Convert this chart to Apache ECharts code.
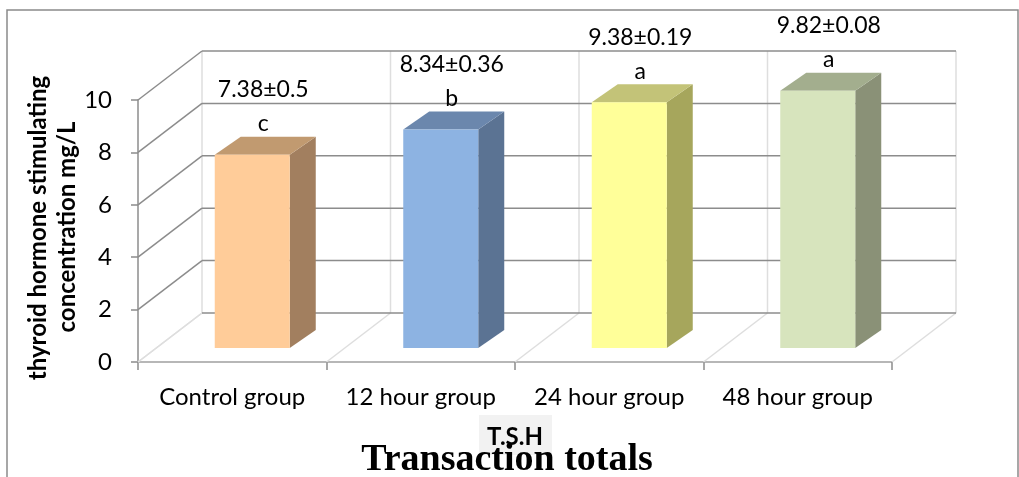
<!DOCTYPE html>
<html>
<head>
<meta charset="utf-8">
<script src="https://cdn.jsdelivr.net/npm/echarts@6/dist/echarts.min.js"></script>
<style>
  html, body { margin: 0; padding: 0; background: #ffffff; }
  #chart { width: 1019px; height: 477px; }
</style>
</head>
<body>
<div id="chart"></div>
<script>
// ---- data ----
const categories = ['Control group', '12 hour group', '24 hour group', '48 hour group'];
const means = [7.38, 8.34, 9.38, 9.82];
const errors = ['0.5', '0.36', '0.19', '0.08'];
const letters = ['c', 'b', 'a', 'a'];
const yTicks = [0, 2, 4, 6, 8, 10];

// ---- styling ----
const frontColors = ['#FFCC99', '#8DB3E2', '#FFFF99', '#D7E4BD'];
const sideColors  = ['#A27F5F', '#5B7393', '#A6A65C', '#8A9177'];
const topColors   = ['#C19A70', '#6B87AD', '#C3C378', '#A3AE8E'];

const FONT = 'Lato, "Open Sans", sans-serif';
const DARK_LINE = '#8c8c8c';
const LIGHT_LINE = '#dedede';

// oblique projection: offset from the front plane to the back wall
const DEPTH = [64, -49];
// bar faces along the depth direction
const BAR_FRONT = [20, -14];
const BAR_SIDE = [26, -18];
const BAR_W = 75;

const chart = echarts.init(document.getElementById('chart'), null, { renderer: 'canvas' });

// back wall gridlines + left-wall diagonals, one item per y tick
function renderWall(params, api) {
  const cs = params.coordSys;
  const v = api.value(1);
  const y = api.coord([0, v])[1];
  const x0 = cs.x, x1 = cs.x + cs.width;
  const color = v === 0 ? LIGHT_LINE : DARK_LINE;
  return {
    type: 'group',
    children: [
      { type: 'line', shape: { x1: x0, y1: y, x2: x0 + DEPTH[0], y2: y + DEPTH[1] },
        style: { stroke: color, lineWidth: 1.5 } },
      { type: 'line', shape: { x1: x0 + DEPTH[0], y1: y + DEPTH[1], x2: x1 + DEPTH[0], y2: y + DEPTH[1] },
        style: { stroke: DARK_LINE, lineWidth: 1.5 } }
    ]
  };
}

// floor diagonals and back-wall verticals at the category boundaries
function renderBounds(params, api) {
  const band = api.size([1, 0])[0];
  const i = api.value(0);
  const xc = api.coord([i, 0])[0];
  const y0 = api.coord([i, 0])[1];
  const yTop = api.coord([i, yTicks[yTicks.length - 1]])[1];
  const xs = [xc - band / 2];
  if (params.dataIndex === categories.length - 1) xs.push(xc + band / 2);
  const children = [];
  xs.forEach(function (x) {
    children.push({ type: 'line', shape: { x1: x, y1: y0, x2: x + DEPTH[0], y2: y0 + DEPTH[1] },
      style: { stroke: LIGHT_LINE, lineWidth: 1.5 } });
    children.push({ type: 'line', shape: { x1: x + DEPTH[0], y1: y0 + DEPTH[1], x2: x + DEPTH[0], y2: yTop + DEPTH[1] },
      style: { stroke: LIGHT_LINE, lineWidth: 1.5 } });
  });
  return { type: 'group', children: children };
}

// 3-D looking column with its value / significance labels
function renderBar(params, api) {
  const i = params.dataIndex;
  const cat = api.value(0);
  const val = api.value(1);
  const base = api.coord([cat, 0]);
  const top = api.coord([cat, val]);
  const xL = base[0] + BAR_FRONT[0] - BAR_W / 2;
  const xR = xL + BAR_W;
  const yB = base[1] + BAR_FRONT[1];
  const yT = top[1] + BAR_FRONT[1];
  const dx = BAR_SIDE[0], dy = BAR_SIDE[1];
  const labelX = (xL + xR) / 2 + 11;
  return {
    type: 'group',
    children: [
      { type: 'polygon', shape: { points: [[xR, yT], [xR + dx, yT + dy], [xR + dx, yB + dy], [xR, yB]] },
        style: { fill: sideColors[i] } },
      { type: 'polygon', shape: { points: [[xL, yT], [xL + dx, yT + dy], [xR + dx, yT + dy], [xR, yT]] },
        style: { fill: topColors[i] } },
      { type: 'rect', shape: { x: xL, y: yT, width: BAR_W, height: yB - yT },
        style: { fill: frontColors[i] } },
      { type: 'text', x: labelX, y: yT - 31,
        style: { text: letters[i], fill: '#000', font: '23px ' + FONT, align: 'center', verticalAlign: 'middle' } },
      { type: 'text', x: labelX, y: yT - 65,
        style: { text: val.toFixed(2) + '\u00B1' + errors[i], fill: '#000', font: '23px ' + FONT, align: 'center', verticalAlign: 'middle' } }
    ]
  };
}

const option = {
  backgroundColor: '#ffffff',
  animation: false,
  grid: { left: 138, right: 127, top: 100, bottom: 115, containLabel: false },
  xAxis: {
    type: 'category',
    data: categories,
    axisLine: { show: true, lineStyle: { color: '#a0a0a0', width: 1.5 } },
    axisTick: { show: true, length: 8, lineStyle: { color: '#8c8c8c', width: 1.5 } },
    axisLabel: { color: '#000', fontSize: 24, fontFamily: FONT, margin: 23, interval: 0, hideOverlap: false },
    splitLine: { show: false }
  },
  yAxis: {
    type: 'value',
    min: 0, max: 10, interval: 2,
    axisLine: { show: true, lineStyle: { color: '#8c8c8c', width: 1.5 } },
    axisTick: { show: true, length: 7, lineStyle: { color: '#8c8c8c', width: 1.5 } },
    axisLabel: { color: '#000', fontSize: 24, fontFamily: FONT, margin: 26 },
    splitLine: { show: false }
  },
  series: [
    { type: 'custom', name: 'bounds', renderItem: renderBounds, clip: false, z: 1,
      data: categories.map(function (c, i) { return [i, 0]; }), silent: true },
    { type: 'custom', name: 'wall', renderItem: renderWall, clip: false, z: 2,
      data: yTicks.map(function (v) { return [0, v]; }), silent: true },
    { type: 'custom', name: 'T.S.H', renderItem: renderBar, clip: false, z: 5,
      data: means.map(function (v, i) { return [i, v]; }) }
  ],
  graphic: [
    { type: 'rect', shape: { x: 7, y: 10, width: 1011, height: 520 },
      style: { fill: 'none', stroke: '#8a8a8a', lineWidth: 1.5 }, z: 0, silent: true },
    { type: 'text', x: 38, y: 228, rotation: Math.PI / 2,
      style: { text: 'thyroid hormone stimulating', fill: '#000', font: 'bold 24px ' + FONT, align: 'center', verticalAlign: 'middle' } },
    { type: 'text', x: 67, y: 227, rotation: Math.PI / 2,
      style: { text: 'concentration mg/L', fill: '#000', font: 'bold 24px ' + FONT, align: 'center', verticalAlign: 'middle' } },
    { type: 'rect', shape: { x: 479, y: 415, width: 73, height: 40 }, style: { fill: '#f2f2f2' }, z: 10 },
    { type: 'text', x: 515, y: 437, z: 11,
      style: { text: 'T.S.H', fill: '#000', font: 'bold 24px ' + FONT, align: 'center', verticalAlign: 'middle' } },
    { type: 'text', x: 507, y: 460, z: 12,
      style: { text: 'Transaction totals', fill: '#000', font: 'bold 38px "Liberation Serif", "Times New Roman", serif', align: 'center', verticalAlign: 'middle' } }
  ]
};

chart.setOption(option);
</script>
</body>
</html>
